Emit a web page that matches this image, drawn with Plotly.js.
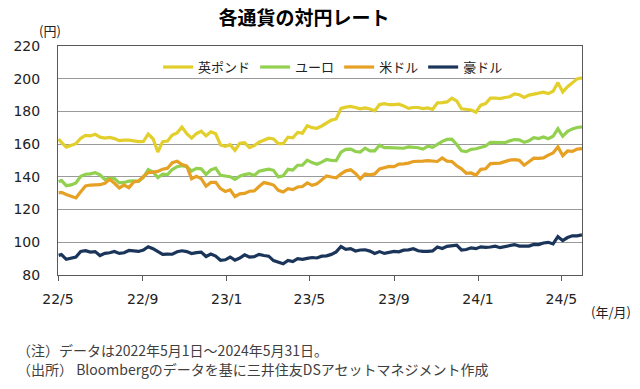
<!DOCTYPE html>
<html>
<head>
<meta charset="utf-8">
<script src="https://cdn.plot.ly/plotly-3.0.1.min.js"></script>
<style>
html,body{margin:0;padding:0;background:#fff;}
#chart{width:640px;height:389px;}
</style>
</head>
<body>
<div id="chart"></div>
<script>
const dates = [
"2022-05-02","2022-05-06","2022-05-13","2022-05-20","2022-05-27",
"2022-06-03","2022-06-10","2022-06-17","2022-06-24",
"2022-07-01","2022-07-08","2022-07-15","2022-07-22","2022-07-29",
"2022-08-05","2022-08-12","2022-08-19","2022-08-26",
"2022-09-02","2022-09-09","2022-09-16","2022-09-23","2022-09-30",
"2022-10-07","2022-10-14","2022-10-21","2022-10-28",
"2022-11-04","2022-11-11","2022-11-18","2022-11-25",
"2022-12-02","2022-12-09","2022-12-16","2022-12-23","2022-12-30",
"2023-01-06","2023-01-13","2023-01-20","2023-01-27",
"2023-02-03","2023-02-10","2023-02-17","2023-02-24",
"2023-03-03","2023-03-10","2023-03-17","2023-03-24","2023-03-31",
"2023-04-07","2023-04-14","2023-04-21","2023-04-28",
"2023-05-05","2023-05-12","2023-05-19","2023-05-26",
"2023-06-02","2023-06-09","2023-06-16","2023-06-23","2023-06-30",
"2023-07-07","2023-07-14","2023-07-21","2023-07-28",
"2023-08-04","2023-08-11","2023-08-18","2023-08-25",
"2023-09-01","2023-09-08","2023-09-15","2023-09-22","2023-09-29",
"2023-10-06","2023-10-13","2023-10-20","2023-10-27",
"2023-11-03","2023-11-10","2023-11-17","2023-11-24",
"2023-12-01","2023-12-08","2023-12-15","2023-12-22","2023-12-29",
"2024-01-05","2024-01-12","2024-01-19","2024-01-26",
"2024-02-02","2024-02-09","2024-02-16","2024-02-23",
"2024-03-01","2024-03-08","2024-03-15","2024-03-22","2024-03-29",
"2024-04-05","2024-04-12","2024-04-19","2024-04-26",
"2024-05-03","2024-05-10","2024-05-17","2024-05-24","2024-05-31"
];

const gbp = [
163.2,161.0,158.2,159.5,160.3,
163.6,165.3,165.0,166.0,
164.3,163.7,164.1,163.4,162.1,
162.5,162.4,161.9,161.5,
161.6,166.2,163.3,155.2,161.5,
161.9,165.6,166.9,170.4,
166.4,163.7,166.4,167.9,
165.0,167.5,166.3,159.5,158.7,
159.7,156.2,160.5,160.9,
157.9,159.1,161.2,162.4,
163.6,163.2,160.3,160.3,164.3,
163.9,167.1,166.7,171.3,
170.1,169.7,171.1,172.9,
174.7,175.4,181.9,182.6,183.1,
182.4,181.6,182.1,181.5,
180.4,184.2,184.7,184.1,
184.2,184.4,183.4,181.9,182.4,
182.4,181.7,182.1,181.2,
185.2,185.4,185.8,188.1,
186.4,181.6,181.0,180.9,179.5,
183.8,184.8,188.1,188.2,
187.8,188.5,189.0,190.7,
190.2,188.6,190.0,190.6,191.0,
191.8,190.9,192.3,197.6,
191.9,195.1,197.6,199.9,200.5
];

const eur = [
137.0,137.8,134.6,135.1,136.3,
140.4,141.6,141.8,142.6,
141.2,138.4,139.2,139.0,136.3,
136.6,137.4,137.6,137.2,
139.6,144.4,143.0,139.6,141.7,
141.4,144.5,146.2,146.8,
146.2,143.6,145.2,144.9,
141.5,144.3,145.3,140.9,140.4,
140.1,138.4,140.4,141.4,
142.0,140.9,143.4,144.1,
144.7,144.0,140.0,140.6,144.6,
144.1,147.1,147.2,150.2,
148.7,147.7,149.0,150.6,
150.1,150.0,155.1,156.8,157.0,
155.5,155.2,157.6,155.9,
155.9,159.3,157.9,157.9,
157.8,158.0,157.5,158.3,158.0,
157.8,157.0,158.7,158.0,
160.0,161.7,162.9,163.0,
159.8,155.9,155.4,156.8,157.2,
158.2,158.8,161.1,161.0,
160.6,160.9,162.0,162.8,
162.6,161.1,162.1,164.0,163.4,
164.4,163.3,164.8,169.4,
164.8,167.8,169.3,170.2,170.6
];

const usd = [
130.2,130.5,129.2,127.9,127.1,
130.9,134.4,135.0,135.2,
135.2,136.1,138.5,136.1,133.2,
135.0,133.4,136.9,137.5,
140.2,142.6,142.9,143.3,144.7,
145.3,148.7,149.6,147.5,
146.6,138.8,140.3,138.9,
134.3,136.6,136.7,132.8,131.1,
132.1,127.9,129.6,129.9,
131.2,131.4,134.1,136.5,
135.9,135.0,131.8,130.7,132.8,
132.2,133.8,134.1,136.3,
134.8,135.7,137.9,140.6,
139.9,139.4,141.8,143.7,144.3,
142.1,138.8,141.7,141.2,
141.8,144.9,145.4,146.4,
146.2,147.8,147.9,148.4,149.4,
149.3,149.6,149.9,149.6,
149.4,151.5,149.6,149.4,
146.8,144.9,142.2,142.4,141.0,
144.6,144.9,148.1,148.1,
148.4,149.3,150.2,150.5,
150.1,147.1,149.1,151.4,151.3,
151.6,153.3,154.6,158.3,
153.0,155.8,155.6,157.0,157.3
];

const aud = [
92.0,92.5,89.6,90.5,91.0,
94.4,94.9,94.0,94.3,
91.9,93.2,93.6,94.4,93.2,
93.6,95.0,94.5,94.4,
95.3,97.3,96.1,94.1,92.6,
92.8,92.7,94.2,94.8,
94.3,93.1,93.7,94.0,
91.3,92.8,91.6,89.0,89.3,
91.0,89.1,90.4,92.3,
91.0,91.2,92.6,91.9,
91.5,88.8,87.8,86.9,88.9,
88.2,90.0,89.6,90.2,
90.7,90.4,91.5,91.7,
92.6,94.1,97.4,95.7,96.1,
94.7,95.3,95.4,94.6,
93.2,94.3,93.2,93.9,
94.4,94.2,95.2,95.4,96.1,
94.8,94.4,94.5,94.7,
97.1,96.2,97.5,98.1,
98.3,95.3,95.6,96.6,96.1,
97.2,96.9,97.1,97.6,
96.7,97.3,98.0,98.6,
97.7,97.8,97.7,98.7,98.6,
99.6,100.0,99.0,103.4,
101.0,102.9,104.0,103.9,104.5
];

const seriesNames = ["英ポンド","ユーロ","米ドル","豪ドル"];
const seriesColors = ["#E2CF2C","#92D050","#E6A024","#1B3459"];
const seriesValues = [gbp, eur, usd, aud];

const tickVals = ["2022-05-01","2022-09-01","2023-01-01","2023-05-01","2023-09-01","2024-01-01","2024-05-01"];
const tickText = ["22/5","22/9","23/1","23/5","23/9","24/1","24/5"];

const jp = '"Noto Sans CJK JP", "Noto Sans", sans-serif';
const num = '"DejaVu Sans", Verdana, sans-serif';

const traces = seriesNames.map((n, i) => ({
  type: "scatter", mode: "lines", name: n,
  x: dates, y: seriesValues[i],
  line: {color: seriesColors[i], width: 3.2}
}));

const layout = {
  width: 640, height: 389,
  margin: {l: 58, r: 58, t: 46, b: 114},
  paper_bgcolor: "#fff", plot_bgcolor: "#fff",
  showlegend: true,
  title: {text: "各通貨の対円レート", font: {family: jp, size: 19, color: "#000", weight: "bold"},
          x: 304/640, xref: "container", xanchor: "center", y: 1 - 18/389, yref: "container", yanchor: "middle"},
  legend: {orientation: "h", x: 0.525, xanchor: "center", y: 0.908, yanchor: "middle",
           font: {family: jp, size: 13, color: "#222"}, bgcolor: "rgba(0,0,0,0)", traceorder: "normal"},
  xaxis: {
    type: "date", range: ["2022-05-01","2024-05-31"],
    tickvals: tickVals, ticktext: tickText,
    ticks: "outside", ticklen: 5, tickcolor: "#595959", tickwidth: 1,
    tickfont: {family: num, size: 14, color: "#222"},
    ticklabelstandoff: 6,
    showgrid: false, showline: true, linecolor: "#595959", linewidth: 1, mirror: true,
    zeroline: false
  },
  yaxis: {
    range: [80, 220], dtick: 20, tick0: 80,
    tickfont: {family: num, size: 14, color: "#222"},
    ticks: "", ticklabelstandoff: 14,
    showgrid: true, gridcolor: "#9A9A9A", gridwidth: 1,
    showline: true, linecolor: "#595959", linewidth: 1, mirror: true,
    zeroline: false
  },
  annotations: [
    {text: "(円)", xref: "paper", yref: "paper", x: (50-58)/524, y: (275-31)/229, xanchor: "center", yanchor: "middle",
     showarrow: false, font: {family: jp, size: 13, color: "#222"}},
    {text: "(年/月)", xref: "paper", yref: "paper", x: (611-58)/524, y: (275-311)/229, xanchor: "center", yanchor: "middle",
     showarrow: false, font: {family: jp, size: 13, color: "#222"}},
    {text: "（注）データは2022年5月1日～2024年5月31日。", xref: "paper", yref: "paper", x: (15-58)/524, y: (275-350)/229,
     xanchor: "left", yanchor: "middle", showarrow: false, font: {family: jp, size: 14, color: "#404040"}},
    {text: "（出所） Bloombergのデータを基に三井住友DSアセットマネジメント作成", xref: "paper", yref: "paper", x: (15-58)/524, y: (275-369)/229,
     xanchor: "left", yanchor: "middle", showarrow: false, font: {family: jp, size: 14, color: "#404040"}}
  ]
};

Plotly.newPlot("chart", traces, layout, {staticPlot: true, displayModeBar: false});
</script>
</body>
</html>
